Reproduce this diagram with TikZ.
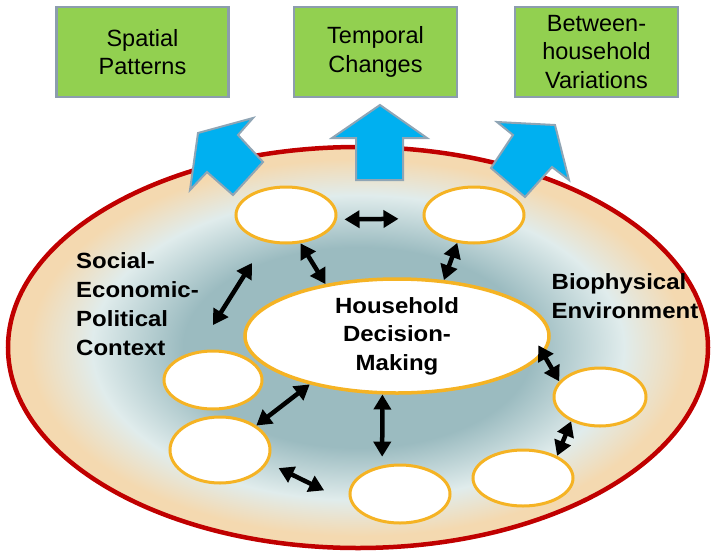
\documentclass[tikz,border=0pt]{standalone}
\usepackage{fontspec}
\setmainfont{Liberation Sans}
\newfontfamily\boldwide[FakeStretch=1.09]{Liberation Sans}
\usetikzlibrary{arrows.meta,shapes.geometric}
\definecolor{boxgreen}{HTML}{92D050}
\definecolor{boxedge}{HTML}{8C9DAE}
\definecolor{skyblue}{HTML}{00B0F0}
\definecolor{arrowedge}{HTML}{8FA5B5}
\definecolor{ringred}{HTML}{C00000}
\definecolor{gold}{HTML}{F5B324}
\definecolor{tealdk}{HTML}{9BBBC0}
\definecolor{palelt}{HTML}{E0ECEC}
\definecolor{peach}{HTML}{F4D9B0}
\pgfdeclareradialshading{ringshade}{\pgfpoint{0bp}{0bp}}{color(0bp)=(tealdk); color(12.5bp)=(tealdk); color(19bp)=(palelt); color(23.5bp)=(peach); color(50bp)=(peach)}
\begin{document}
\begin{tikzpicture}[x=1pt,y=-1pt,
  gbox/.style={draw=boxedge, line width=2.5pt, fill=boxgreen, minimum width=#1, minimum height=90pt, inner sep=0pt, align=center, font=\fontsize{23.5}{28.5}\selectfont},
  sell/.style={ellipse, draw=gold, line width=3pt, fill=white, inner sep=0pt},
  bigell/.style={ellipse, draw=gold, line width=3.5pt, fill=white, inner sep=0pt, minimum width=304pt, minimum height=114pt, align=center, font=\boldwide\bfseries\fontsize{22}{28.5}\selectfont},
  lbl/.style={inner sep=0pt, align=left, font=\boldwide\bfseries\fontsize{22}{29}\selectfont},
  bluearrow/.style={fill=skyblue, draw=arrowedge, line width=2pt, line join=miter},
  dbl/.style={line width=4.5pt, {Triangle[length=15pt,width=17pt]}-{Triangle[length=15pt,width=17pt]}}]
\useasboundingbox (0,0) rectangle (712,552);
% top boxes
\node[gbox=172pt] (sp) at (142.5,52) {Spatial\\Patterns};
\node[gbox=163pt] (tc) at (375.5,52) {Temporal\\Changes};
\node[gbox=163pt] (bv) at (596.5,52) {Between-\\household\\Variations};
% outer ellipse
\shade[shading=ringshade] (358,347.5) ellipse [x radius=350, y radius=200.5];
\draw[ringred, line width=4.5pt] (358,347.5) ellipse [x radius=350, y radius=200.5];
% blue arrows
\draw[bluearrow] (198,133) -- (253,118) -- (238,135) -- (263,162) -- (233,195) -- (207,172) -- (190,190) -- cycle;
\draw[bluearrow] (380,105) -- (427,138) -- (403,138) -- (403,180) -- (356,180) -- (356,138) -- (332,138) -- cycle;
\draw[bluearrow] (555,125) -- (569,180) -- (552,167) -- (525,197) -- (491,168) -- (513,135) -- (497,122) -- cycle;
% ellipses
\node[sell, minimum width=100pt, minimum height=56pt] (A) at (286,215) {};
\node[sell, minimum width=100pt, minimum height=56pt] (B) at (474,215) {};
\node[sell, minimum width=98pt, minimum height=58pt] (L1) at (213,380) {};
\node[sell, minimum width=100pt, minimum height=66pt] (L2) at (220,450) {};
\node[sell, minimum width=100pt, minimum height=58pt] (C) at (400,494) {};
\node[sell, minimum width=100pt, minimum height=56pt] (R2) at (523,478) {};
\node[sell, minimum width=92pt, minimum height=58pt] (R1) at (600,397) {};
\node[bigell] (H) at (397,336) {Household\\Decision-\\Making};
% labels
\node[lbl, anchor=north west] (soc) at (76,252) {Social-\\Economic-\\Political\\Context};
\node[lbl, anchor=north west] (bio) at (551.5,273) {Biophysical\\Environment};
% black arrows
\coordinate (s1) at (252,263);
\coordinate (s2) at (213,325);
\draw[dbl, shorten <=7.6pt, shorten >=24.4pt] (A.-5) -- (B.184);
\draw[dbl] (A.-63) -- (H.144);
\draw[dbl] (B.-121) -- (H.50);
\draw[dbl] (s1) -- (s2);
\draw[dbl, shorten <=-10pt] (H.-7) -- (R1.159);
\draw[dbl] (R1.220) -- (R2.33);
\draw[dbl, shorten >=8.7pt] (H.256) -- (C.122);
\draw[dbl] (H.209) -- (L2.34);
\draw[dbl, shorten <=12pt, shorten >=30pt] (L2.-15) -- (C.191);
\end{tikzpicture}
\end{document}
